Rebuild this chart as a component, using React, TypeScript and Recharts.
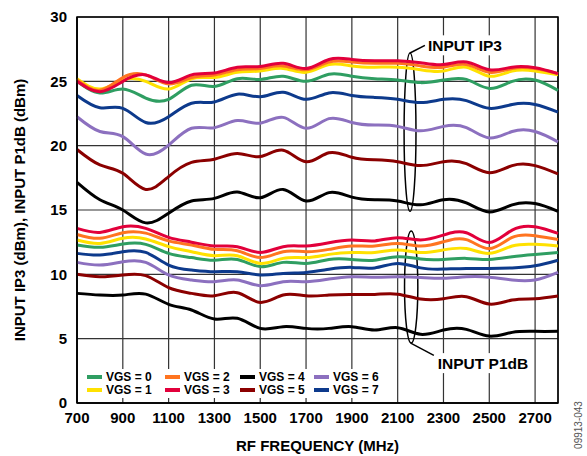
import {
  LineChart,
  Line,
  XAxis,
  YAxis,
  CartesianGrid,
  Legend,
  ReferenceArea,
  ReferenceLine,
  ReferenceDot,
} from "recharts";

// RF frequency (MHz), one point every 100 MHz
const FREQ = [
  700, 800, 900, 1000, 1100, 1200, 1300, 1400, 1500, 1600, 1700, 1800, 1900,
  2000, 2100, 2200, 2300, 2400, 2500, 2600, 2700, 2800,
];
const X_TICKS = [700, 900, 1100, 1300, 1500, 1700, 1900, 2100, 2300, 2500, 2700];
const Y_TICKS = [0, 5, 10, 15, 20, 25, 30];

// input IP3 (dBm) per VGS setting
const IP3_VGS0 = [25.0, 24.1, 24.4, 23.7, 23.6, 24.7, 24.6, 25.2, 25.15, 25.4, 25.0, 25.55, 25.4, 25.2, 25.1, 24.9, 25.1, 25.15, 24.45, 25.0, 25.1, 24.3];
const IP3_VGS1 = [25.2, 24.4, 25.1, 25.0, 24.4, 25.2, 25.3, 25.7, 25.8, 26.0, 25.7, 26.3, 26.2, 26.1, 26.1, 25.9, 25.8, 26.1, 25.4, 25.8, 25.8, 25.5];
const IP3_VGS2 = [25.1, 24.3, 25.3, 25.5, 24.8, 25.3, 25.5, 25.9, 26.0, 26.2, 25.9, 26.5, 26.5, 26.4, 26.4, 26.2, 26.1, 26.3, 25.7, 26.0, 26.0, 25.6];
const IP3_VGS3 = [25.0, 24.2, 25.0, 25.5, 24.9, 25.5, 25.65, 26.1, 26.15, 26.4, 26.0, 26.7, 26.7, 26.6, 26.6, 26.45, 26.3, 26.5, 25.9, 26.1, 26.05, 25.6];
const IP3_VGS4 = [17.15, 15.8, 15.0, 14.0, 14.75, 15.7, 15.9, 16.4, 15.95, 16.6, 15.7, 16.35, 16.0, 15.8, 15.7, 15.4, 15.8, 15.55, 14.85, 15.4, 15.5, 14.9];
const IP3_VGS5 = [19.7, 18.5, 17.85, 16.6, 17.6, 18.7, 18.95, 19.4, 19.15, 19.65, 18.75, 19.45, 19.1, 18.9, 18.75, 18.45, 18.75, 18.6, 17.9, 18.45, 18.45, 17.8];
const IP3_VGS6 = [22.25, 21.1, 20.7, 19.35, 20.05, 21.35, 21.4, 21.95, 21.75, 22.2, 21.35, 22.1, 21.8, 21.6, 21.5, 21.15, 21.5, 21.4, 20.6, 21.1, 21.1, 20.3];
const IP3_VGS7 = [23.9, 22.95, 22.9, 21.8, 22.25, 23.3, 23.4, 24.0, 23.8, 24.15, 23.6, 24.1, 23.9, 23.75, 23.6, 23.35, 23.6, 23.5, 22.9, 23.2, 23.2, 22.6];

// input P1dB (dBm) per VGS setting
const P1DB_VGS0 = [12.28, 12.1, 12.35, 12.33, 11.63, 11.3, 11.1, 11.15, 10.6, 10.93, 10.85, 11.16, 11.16, 11.1, 11.37, 11.19, 11.16, 11.24, 11.16, 11.37, 11.55, 11.7];
const P1DB_VGS1 = [12.67, 12.4, 12.8, 12.75, 12.15, 11.76, 11.45, 11.45, 10.85, 11.24, 11.3, 11.55, 11.7, 11.7, 11.9, 11.7, 11.9, 12.0, 11.63, 12.2, 12.33, 12.2];
const P1DB_VGS2 = [13.1, 12.8, 13.23, 13.2, 12.6, 12.28, 11.94, 11.83, 11.3, 11.76, 11.76, 11.94, 12.2, 12.2, 12.4, 12.2, 12.53, 12.7, 12.0, 12.87, 13.0, 12.7];
const P1DB_VGS3 = [13.57, 13.26, 13.7, 13.57, 12.87, 12.5, 12.2, 12.15, 11.7, 12.15, 12.2, 12.45, 12.67, 12.6, 12.85, 12.67, 13.05, 13.23, 12.48, 13.44, 13.7, 13.18];
const P1DB_VGS4 = [8.52, 8.39, 8.39, 8.46, 7.67, 7.23, 6.53, 6.58, 5.8, 5.93, 5.8, 5.8, 5.93, 5.67, 5.85, 5.34, 5.67, 5.72, 5.2, 5.49, 5.57, 5.57];
const P1DB_VGS5 = [10.0, 9.81, 9.95, 9.9, 8.96, 8.52, 8.34, 8.57, 7.82, 8.39, 8.33, 8.39, 8.44, 8.44, 8.46, 8.08, 8.1, 8.26, 7.69, 8.0, 8.1, 8.31];
const P1DB_VGS6 = [10.93, 10.72, 10.98, 10.93, 9.95, 9.56, 9.43, 9.56, 9.12, 9.43, 9.43, 9.63, 9.81, 9.78, 9.81, 9.76, 9.69, 9.81, 9.78, 9.56, 9.56, 10.15];
const P1DB_VGS7 = [11.63, 11.5, 11.76, 11.7, 10.72, 10.33, 10.2, 10.2, 9.95, 10.07, 10.15, 10.39, 10.54, 10.5, 10.85, 10.5, 10.41, 10.46, 10.46, 10.5, 10.67, 11.1];

const VGS = [0, 1, 2, 3, 4, 5, 6, 7];
const IP3 = [IP3_VGS0, IP3_VGS1, IP3_VGS2, IP3_VGS3, IP3_VGS4, IP3_VGS5, IP3_VGS6, IP3_VGS7];
const P1DB = [P1DB_VGS0, P1DB_VGS1, P1DB_VGS2, P1DB_VGS3, P1DB_VGS4, P1DB_VGS5, P1DB_VGS6, P1DB_VGS7];

const colors = ["#2f9e62", "#ffe100", "#ff7420", "#e2003b", "#000000", "#8b0000", "#8c70bf", "#0d3a8c"];
// order the lines are painted in, so red ends up on top like in the datasheet
const drawOrder = [4, 5, 6, 7, 0, 1, 2, 3];
const legendOrder = [0, 2, 4, 6, 1, 3, 5, 7];

const FONT = "'Liberation Sans', Arial, Helvetica, sans-serif";

const rows = FREQ.map((f, i) => {
  const row: Record<string, number> = { freq: f };
  VGS.forEach((v) => {
    row[`ip3_${v}`] = IP3[v][i];
    row[`p1_${v}`] = P1DB[v][i];
  });
  return row;
});

function renderLegend() {
  return (
    <div
      style={{
        display: "grid",
        gridTemplateColumns: "78px 75px 74px 74px",
        background: "#fff",
        padding: "1px 0 2px 3px",
        fontFamily: FONT,
        fontWeight: 700,
        fontSize: 12,
        lineHeight: "13px",
        color: "#000",
      }}
    >
      {legendOrder.map((v) => (
        <div key={v} style={{ display: "flex", alignItems: "center", height: 13 }}>
          <span style={{ width: 15, height: 4, background: colors[v], marginRight: 4 }} />
          <span style={{ lineHeight: "12px", whiteSpace: "nowrap" }}>VGS = {v}</span>
        </div>
      ))}
    </div>
  );
}

function ellipseShape(props: any) {
  const { x, y, width, height } = props;
  return (
    <ellipse
      cx={x + width / 2}
      cy={y + height / 2}
      rx={Math.abs(width) / 2}
      ry={Math.abs(height) / 2}
      fill="none"
      stroke="#000"
      strokeWidth={1.5}
    />
  );
}

function noteShape(text: string, w: number) {
  return (props: any) => {
    const { cx, cy } = props;
    return (
      <g>
        <rect x={cx + 1} y={cy - 10} width={w} height={20} fill="#fff" />
        <text
          x={cx + 3}
          y={cy}
          dy="0.36em"
          fontFamily={FONT}
          fontWeight={700}
          fontSize={15.5}
          fill="#000"
        >
          {text}
        </text>
      </g>
    );
  };
}

export default function App() {
  const tickStyle = { fontFamily: FONT, fontWeight: 700, fontSize: 15, fill: "#000" };
  return (
    <div style={{ position: "absolute", left: 0, top: 0, width: 587, height: 456, background: "#fff" }}>
      <LineChart
        width={587}
        height={456}
        data={rows}
        margin={{ top: 17, right: 29, bottom: 23, left: 17 }}
      >
        <CartesianGrid stroke="#333" strokeWidth={1.2} />
        <XAxis
          dataKey="freq"
          type="number"
          domain={[700, 2800]}
          ticks={X_TICKS}
          interval={0}
          height={30}
          tickSize={0}
          tickMargin={9}
          tick={tickStyle}
          axisLine={{ stroke: "#000", strokeWidth: 1.5 }}
          label={{
            value: "RF FREQUENCY (MHz)",
            position: "center",
            dy: 28,
            style: { fontFamily: FONT, fontWeight: 700, fontSize: 15, fill: "#000" },
          }}
        />
        <YAxis
          type="number"
          domain={[0, 30]}
          ticks={Y_TICKS}
          interval={0}
          width={60}
          tickSize={0}
          tickMargin={10}
          tick={tickStyle}
          axisLine={{ stroke: "#000", strokeWidth: 1.5 }}
          label={{
            value: "INPUT IP3 (dBm), INPUT P1dB (dBm)",
            angle: -90,
            position: "center",
            dx: -27,
            style: { fontFamily: FONT, fontWeight: 700, fontSize: 15, fill: "#000", textAnchor: "middle" },
          }}
        />
        <ReferenceArea x1={700} x2={2800} y1={0} y2={30} fill="none" stroke="#000" strokeWidth={1.5} />

        {drawOrder.map((v) => (
          <Line
            key={`p1_${v}`}
            type="natural"
            dataKey={`p1_${v}`}
            stroke={colors[v]}
            strokeWidth={3}
            dot={false}
            isAnimationActive={false}
            legendType="none"
          />
        ))}
        {drawOrder.map((v) => (
          <Line
            key={`ip3_${v}`}
            type="natural"
            dataKey={`ip3_${v}`}
            name={`VGS = ${v}`}
            stroke={colors[v]}
            strokeWidth={3}
            dot={false}
            isAnimationActive={false}
          />
        ))}

        {/* callouts */}
        <ReferenceArea x1={2128} x2={2180} y1={14.9} y2={27.2} shape={ellipseShape} fill="none" />
        <ReferenceArea x1={2130} x2={2188} y1={4.66} y2={13.36} shape={ellipseShape} fill="none" />
        <ReferenceLine
          segment={[{ x: 2154, y: 27.2 }, { x: 2219, y: 27.8 }]}
          stroke="#000"
          strokeWidth={1.5}
        />
        <ReferenceLine
          segment={[{ x: 2157, y: 4.66 }, { x: 2258, y: 3.7 }]}
          stroke="#000"
          strokeWidth={1.5}
        />
        <ReferenceDot x={2219} y={27.8} r={0} shape={noteShape("INPUT IP3", 82)} />
        <ReferenceDot x={2262} y={3.1} r={0} shape={noteShape("INPUT P1dB", 98)} />

        <Legend
          content={renderLegend}
          layout="horizontal"
          verticalAlign="middle"
          align="center"
          wrapperStyle={{ left: 84, top: 369, width: 310 }}
        />
      </LineChart>
      <div
        style={{
          position: "absolute",
          left: 578,
          top: 425,
          transform: "translate(-50%, -50%) rotate(-90deg)",
          fontFamily: FONT,
          fontSize: 10,
          color: "#555",
          whiteSpace: "nowrap",
        }}
      >
        09913-043
      </div>
    </div>
  );
}
